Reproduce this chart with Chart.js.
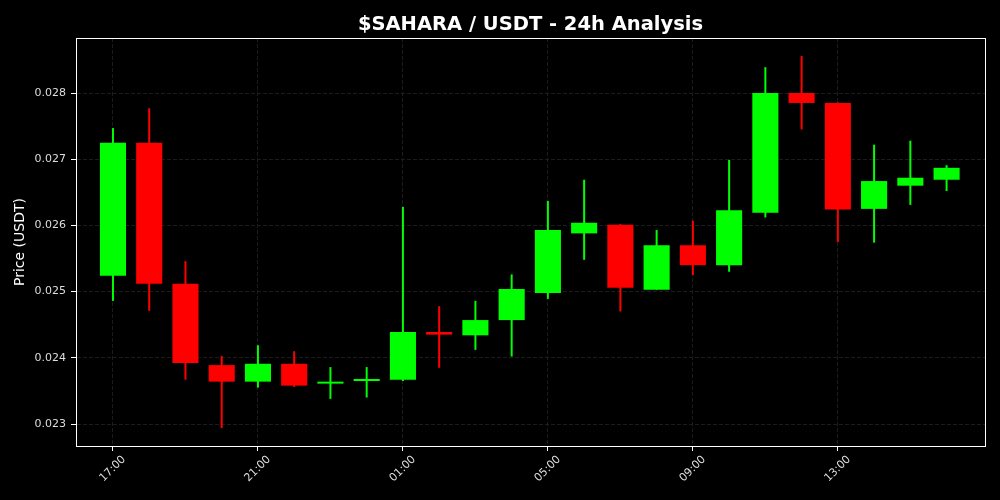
<!DOCTYPE html>
<html>
<head>
<meta charset="utf-8">
<script src="https://cdn.jsdelivr.net/npm/chart.js@4"></script>
<style>
  html, body { margin: 0; padding: 0; background: #000; }
  canvas { display: block; }
</style>
</head>
<body>
<canvas id="chart" width="1000" height="500"></canvas>
<script>
// Hourly candles, 17:00 -> 16:00
const times = ["17:00", "18:00", "19:00", "20:00", "21:00", "22:00", "23:00", "00:00",
  "01:00", "02:00", "03:00", "04:00", "05:00", "06:00", "07:00", "08:00",
  "09:00", "10:00", "11:00", "12:00", "13:00", "14:00", "15:00", "16:00"];
const opens = [0.02524, 0.02725, 0.02512, 0.02389, 0.02364, 0.02391, 0.02361, 0.02365,
  0.02367, 0.02439, 0.02434, 0.02457, 0.02498, 0.02588, 0.02601, 0.02503,
  0.02570, 0.02540, 0.02619, 0.02800, 0.02785, 0.02625, 0.02660, 0.02669];
const closes = [0.02725, 0.02512, 0.02392, 0.02364, 0.02391, 0.02358, 0.02364, 0.02368,
  0.02439, 0.02435, 0.02457, 0.02504, 0.02593, 0.02604, 0.02506, 0.02570,
  0.02540, 0.02623, 0.02800, 0.02785, 0.02624, 0.02667, 0.02672, 0.02687];
const highs = [0.02747, 0.02777, 0.02546, 0.02403, 0.02419, 0.02410, 0.02386, 0.02386,
  0.02628, 0.02478, 0.02486, 0.02526, 0.02637, 0.02669, 0.02602, 0.02593,
  0.02607, 0.02699, 0.02839, 0.02856, 0.02786, 0.02722, 0.02728, 0.02691];
const lows = [0.02486, 0.02471, 0.02367, 0.02294, 0.02355, 0.02356, 0.02338, 0.02340,
  0.02365, 0.02385, 0.02412, 0.02402, 0.02489, 0.02548, 0.02470, 0.02503,
  0.02525, 0.02530, 0.02612, 0.02745, 0.02575, 0.02574, 0.02631, 0.02652];
const xTickEvery = 4;
const yTicks = [0.023, 0.024, 0.025, 0.026, 0.027, 0.028];

const UP = "#00ff00";
const DOWN = "#ff0000";
const colors = opens.map((o, i) => closes[i] >= o ? UP : DOWN);

// draw the top/right spines too
const frame = {
  id: "frame",
  afterDraw(chart) {
    const { ctx, chartArea: a } = chart;
    ctx.save();
    ctx.strokeStyle = "#ffffff";
    ctx.lineWidth = 1;
    ctx.strokeRect(a.left + 0.5, a.top + 0.5, a.right - a.left, a.bottom - a.top);
    ctx.restore();
  }
};

const chart = new Chart("chart", {
  type: "bar",
  data: {
    datasets: [
      {
        label: "wick",
        data: times.map((t, i) => ({ x: i, y: [lows[i], highs[i]] })),
        backgroundColor: colors,
        barPercentage: 0.055,
        categoryPercentage: 1,
        grouped: false,
        order: 2,
      },
      {
        label: "body",
        data: times.map((t, i) => ({ x: i, y: [opens[i], closes[i]] })),
        backgroundColor: colors,
        barPercentage: 0.72,
        categoryPercentage: 1,
        grouped: false,
        order: 1,
      },
    ],
  },
  options: {
    responsive: false,
    animation: false,
    layout: { padding: { left: 0, right: 15, top: 0, bottom: 0 } },
    plugins: {
      legend: { display: false },
      tooltip: { enabled: false },
      title: {
        display: true,
        text: "$SAHARA / USDT - 24h Analysis",
        color: "#ffffff",
        fullSize: false,
        font: { family: "DejaVu Sans", size: 19.5, weight: "bold" },
        padding: { top: 13.5, bottom: 1.1 },
      },
    },
    scales: {
      x: {
        type: "linear",
        offset: false,
        min: -1.02,
        max: 24.06,
        afterBuildTicks: (scale) => {
          scale.ticks = times.map((t, i) => ({ value: i })).filter((t) => t.value % xTickEvery === 0);
        },
        afterFit: (scale) => { scale.height = 54; },
        ticks: {
          color: "#dddddd",
          font: { family: "DejaVu Sans", size: 11 },
          minRotation: 45,
          maxRotation: 45,
          labelOffset: 11,
          padding: 2,
          callback: (v) => times[v],
        },
        grid: { offset: false, color: "#1c1c1c", tickColor: "#ffffff", tickLength: 5 },
        border: { color: "#ffffff", dash: [4, 2] },
      },
      y: {
        min: 0.022668,
        max: 0.028831,
        afterBuildTicks: (scale) => {
          scale.ticks = yTicks.map((v) => ({ value: v }));
        },
        afterFit: (scale) => { scale.width = 76; },
        ticks: {
          color: "#dddddd",
          font: { family: "DejaVu Sans", size: 11 },
          padding: 5,
          callback: (v) => v.toFixed(3),
        },
        title: {
          display: true,
          text: "Price (USDT)",
          color: "#ffffff",
          font: { family: "DejaVu Sans", size: 14 },
          padding: { top: 12, bottom: 4 },
        },
        grid: { color: "#1c1c1c", tickColor: "#ffffff", tickLength: 5 },
        border: { color: "#ffffff", dash: [4, 2] },
      },
    },
  },
  plugins: [frame],
});
</script>
</body>
</html>
